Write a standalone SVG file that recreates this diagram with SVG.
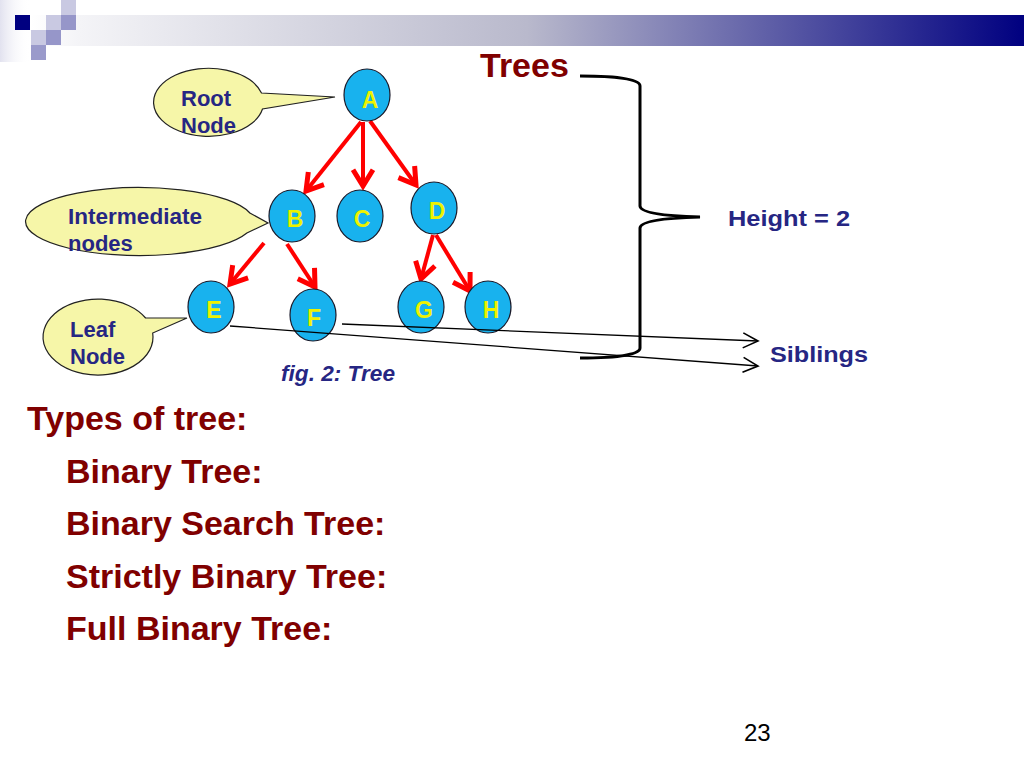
<svg xmlns="http://www.w3.org/2000/svg" width="1024" height="768" viewBox="0 0 1024 768">
<defs>
<linearGradient id="bar" x1="0" y1="0" x2="1" y2="0">
<stop offset="0" stop-color="#ffffff"/>
<stop offset="0.05" stop-color="#f4f4f7"/>
<stop offset="0.5" stop-color="#b9b9cc"/>
<stop offset="1" stop-color="#000080"/>
</linearGradient>
<linearGradient id="strip" x1="0" y1="0" x2="1" y2="0">
<stop offset="0" stop-color="#e2e2ef"/>
<stop offset="1" stop-color="#ffffff" stop-opacity="0"/>
</linearGradient>
<marker id="ra" markerUnits="userSpaceOnUse" markerWidth="30" markerHeight="30" refX="0" refY="0" viewBox="-16 -12 20 24" orient="auto">
<path d="M-13,-8 L0,0 L-13,8" fill="none" stroke="#ff0000" stroke-width="4" stroke-linejoin="miter"/>
</marker>
<marker id="ba" markerUnits="userSpaceOnUse" markerWidth="20" markerHeight="20" refX="0" refY="0" viewBox="-14 -8 16 16" orient="auto">
<path d="M-12,-6 L0,0 L-12,6" fill="none" stroke="#000" stroke-width="1.3"/>
</marker>
</defs>
<style>
.node ellipse{fill:#18b2ee;stroke:#1a1a2a;stroke-width:1.2}
.node text{font-family:"Liberation Sans",Arial,sans-serif;font-weight:bold;font-size:23px;fill:#eef200;text-anchor:middle}
.call path{fill:#f6f6a8;stroke:#222;stroke-width:1.2}
.call text,.lbl{font-family:"Liberation Sans",Arial,sans-serif;font-weight:bold;font-size:22px;fill:#262683}
.red{stroke:#ff0000;stroke-width:4;fill:none;marker-end:url(#ra)}
.blk{stroke:#000;stroke-width:1.3;fill:none;marker-end:url(#ba)}
.maroon{font-family:"Liberation Sans",Arial,sans-serif;font-weight:bold;font-size:34px;fill:#800000}
</style>
<g id="header">
<rect x="0" y="0" width="30" height="62" fill="url(#strip)"/>
<rect x="30" y="15" width="994" height="31" fill="url(#bar)"/>
<rect x="15" y="15" width="15" height="15" fill="#000080"/>
<rect x="61" y="0" width="15" height="15" fill="#c9c9e2"/>
<rect x="46" y="15" width="15" height="15" fill="#c9c9e2"/>
<rect x="61" y="15" width="15" height="15" fill="#9696c9"/>
<rect x="31" y="30" width="15" height="15" fill="#c9c9e2"/>
<rect x="46" y="30" width="15" height="15" fill="#9696c9"/>
<rect x="31" y="45" width="15" height="15" fill="#9a9acb"/>
</g>
<text class="maroon" x="480" y="77" font-size="32">Trees</text>
<g id="callout-root" class="call">
<path d="M261.5,93 A55 34 0 1 0 262.5,109 L335,97 Z"/>
<text x="181" y="106">Root</text>
<text x="181" y="133">Node</text>
</g>
<g id="callout-intermediate" class="call">
<path d="M249.9,213 A114 34 0 1 0 246.9,233 L268,223 Z"/>
<text x="68" y="224" textLength="134" lengthAdjust="spacingAndGlyphs">Intermediate</text>
<text x="68" y="251">nodes</text>
</g>
<g id="callout-leaf" class="call">
<path d="M145.6,318 A55 38 0 1 0 152.7,333 L187,318 Z"/>
<text x="70" y="337">Leaf</text>
<text x="70" y="364">Node</text>
</g>
<g id="edges">
<line class="red" x1="361" y1="122" x2="306" y2="191"/>
<line class="red" x1="363" y1="122" x2="363" y2="186"/>
<line class="red" x1="370" y1="121" x2="416" y2="185"/>
<line class="red" x1="264" y1="243" x2="230" y2="284"/>
<line class="red" x1="287" y1="244" x2="315" y2="287"/>
<line class="red" x1="433" y1="235" x2="421" y2="279"/>
<line class="red" x1="436" y1="235" x2="470" y2="291"/>
</g>
<g id="node-A" class="node"><ellipse cx="367" cy="95" rx="23" ry="26"/><text x="370" y="108" font-size="24">A</text></g>
<g id="node-B" class="node"><ellipse cx="292" cy="216" rx="23" ry="26"/><text x="295" y="227">B</text></g>
<g id="node-C" class="node"><ellipse cx="360" cy="216" rx="23" ry="26"/><text x="362" y="227">C</text></g>
<g id="node-D" class="node"><ellipse cx="434" cy="208" rx="23" ry="26"/><text x="437" y="219">D</text></g>
<g id="node-E" class="node"><ellipse cx="211" cy="307" rx="23" ry="26"/><text x="214" y="318">E</text></g>
<g id="node-F" class="node"><ellipse cx="313" cy="315" rx="23" ry="26"/><text x="314" y="326">F</text></g>
<g id="node-G" class="node"><ellipse cx="421" cy="307" rx="23" ry="26"/><text x="424" y="318">G</text></g>
<g id="node-H" class="node"><ellipse cx="488" cy="307" rx="23" ry="26"/><text x="491" y="318">H</text></g>
<g id="sibling-arrows">
<line class="blk" x1="342" y1="324" x2="758" y2="341"/>
<line class="blk" x1="230" y1="326" x2="758" y2="366"/>
</g>
<g id="brace">
<path d="M580,76 C615,76 640,79 640,86 L640,206 C640,213 665,216 700,217 C665,218 640,221 640,228 L640,348 C640,355 615,358 580,358" fill="none" stroke="#000" stroke-width="3"/>
</g>
<text class="lbl" x="728" y="226" font-size="24" textLength="122" lengthAdjust="spacingAndGlyphs">Height = 2</text>
<text class="lbl" x="770" y="362" font-size="24" textLength="98" lengthAdjust="spacingAndGlyphs">Siblings</text>
<text class="lbl" x="281" y="381" font-size="21" font-style="italic" textLength="114" lengthAdjust="spacingAndGlyphs">fig. 2: Tree</text>
<text class="maroon" x="27" y="430">Types of tree:</text>
<text class="maroon" x="66" y="483">Binary Tree:</text>
<text class="maroon" x="66" y="535">Binary Search Tree:</text>
<text class="maroon" x="66" y="588">Strictly Binary Tree:</text>
<text class="maroon" x="66" y="640">Full Binary Tree:</text>
<text x="744" y="741" font-family="Liberation Sans, Arial, sans-serif" font-size="24" fill="#000">23</text>
</svg>
